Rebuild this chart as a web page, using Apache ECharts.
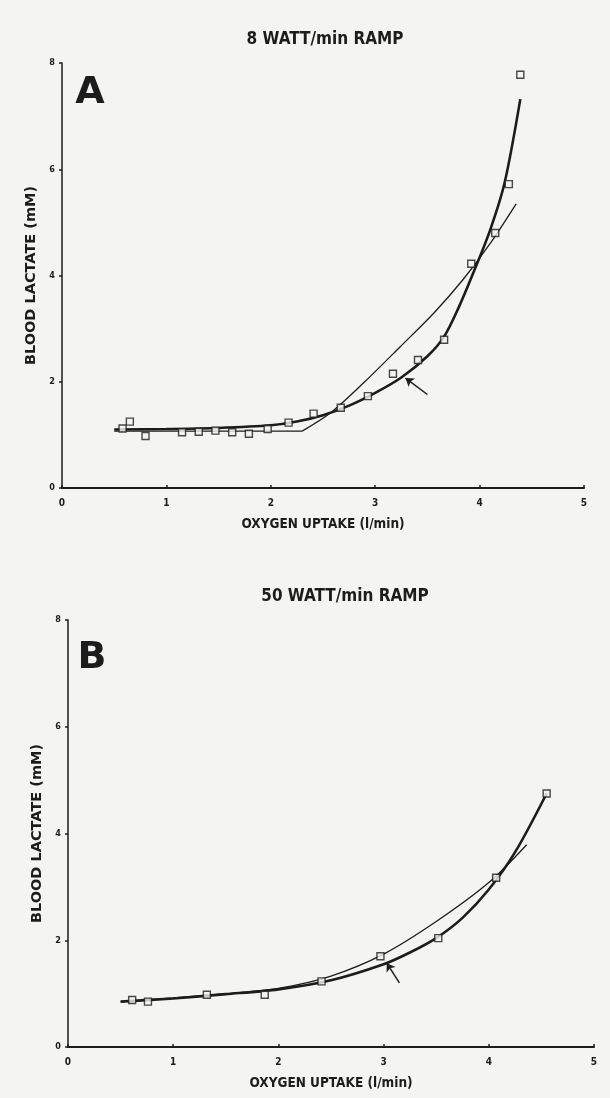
<!DOCTYPE html>
<html>
<head>
<meta charset="utf-8">
<script src="https://cdn.jsdelivr.net/npm/echarts@6/dist/echarts.min.js"></script>
<style>
html,body{margin:0;padding:0;background:#f4f4f2;}
#c{width:610px;height:1098px;}
</style>
</head>
<body>
<div id="c"></div>
<script>
// ---- DATA ----
var titleA = '8 WATT/min RAMP';
var titleB = '50 WATT/min RAMP';
var xName = 'OXYGEN UPTAKE (l/min)';
var yName = 'BLOOD LACTATE (mM)';
var xTicks = [0, 1, 2, 3, 4, 5];
var yTicks = [0, 2, 4, 6, 8];

// Panel A: measured points (l/min, mM)
var pointsA = [[0.58,1.12],[0.65,1.25],[0.80,0.98],[1.15,1.05],[1.31,1.06],[1.47,1.08],[1.63,1.05],[1.79,1.02],[1.97,1.11],[2.17,1.23],[2.41,1.40],[2.67,1.51],[2.93,1.73],[3.17,2.15],[3.41,2.41],[3.66,2.79],[3.92,4.22],[4.15,4.80],[4.28,5.72],[4.39,7.78]];
// Panel A: thick curve (exponential fit)
var thickA = [[0.5,1.10],[1.0,1.11],[1.5,1.13],[2.0,1.18],[2.25,1.25],[2.5,1.37],[2.75,1.55],[3.0,1.79],[3.25,2.08],[3.5,2.48],[3.66,2.85],[3.8,3.40],[3.94,4.05],[4.1,4.85],[4.24,5.75],[4.39,7.32]];
// Panel A: thin line (flat part, then rising curve)
var thinA = [[0.5,1.07],[2.3,1.07],[2.57,1.41],[2.9,2.00],[3.24,2.66],[3.56,3.29],[3.84,3.92],[4.1,4.60],[4.35,5.35]];
// Panel A: arrow (tail, tip)
var arrowA = [[3.50,1.76],[3.29,2.07]];

// Panel B
var pointsB = [[0.61,0.88],[0.76,0.85],[1.32,0.98],[1.87,0.98],[2.41,1.23],[2.97,1.70],[3.52,2.04],[4.07,3.17],[4.55,4.75]];
var thickB = [[0.5,0.85],[1.0,0.91],[1.5,0.99],[2.0,1.08],[2.5,1.25],[3.0,1.55],[3.25,1.77],[3.5,2.04],[3.75,2.42],[4.0,2.95],[4.25,3.65],[4.55,4.75]];
var thinB = [[0.5,0.85],[1.0,0.92],[1.5,1.00],[2.0,1.10],[2.5,1.33],[3.0,1.74],[3.5,2.35],[4.0,3.08],[4.36,3.79]];
var arrowB = [[3.15,1.20],[3.03,1.57]];

// ---- CHART ----
var INK = '#1c1c1c';
var BG = '#f4f4f2';
var FONT = '"DejaVu Sans Condensed", "Liberation Sans Narrow", "DejaVu Sans", sans-serif';
var FONTW = '"DejaVu Sans", sans-serif';

function xAxis(idx) {
  return {
    gridIndex: idx, type: 'value', min: xTicks[0], max: xTicks[xTicks.length-1], interval: 1,
    name: xName, nameLocation: 'middle', nameGap: 29,
    nameTextStyle: {color: INK, fontSize: 13.5, fontWeight: 'bold', fontFamily: FONT},
    axisLine: {show: true, onZero: false, lineStyle: {color: INK, width: 2}},
    axisTick: {show: true, inside: true, length: 3, lineStyle: {color: INK, width: 1.5}},
    axisLabel: {color: INK, fontSize: 10, fontWeight: 'bold', fontFamily: FONT, margin: 10},
    splitLine: {show: false}
  };
}
function yAxis(idx) {
  return {
    gridIndex: idx, type: 'value', min: yTicks[0], max: yTicks[yTicks.length-1], interval: 2,
    name: yName, nameLocation: 'middle', nameGap: 20,
    nameTextStyle: {color: INK, fontSize: 14.5, fontWeight: 'bold', fontFamily: FONTW},
    axisLine: {show: true, onZero: false, lineStyle: {color: INK, width: 1.5}},
    axisTick: {show: true, inside: false, length: 3, lineStyle: {color: INK, width: 1.5}},
    axisLabel: {color: INK, fontSize: 9, fontWeight: 'bold', fontFamily: FONT, margin: 7},
    splitLine: {show: false}
  };
}
function scatter(idx, data) {
  return {type: 'scatter', xAxisIndex: idx, yAxisIndex: idx, data: data, symbol: 'rect', symbolSize: 7,
    itemStyle: {color: BG, borderColor: INK, borderWidth: 1.4}, z: 5, silent: true};
}
function line(idx, data, w, smooth) {
  return {type: 'line', xAxisIndex: idx, yAxisIndex: idx, data: data, showSymbol: false, symbol: 'none',
    smooth: smooth, lineStyle: {color: INK, width: w}, z: 3, silent: true};
}
function arrow(idx, data) {
  return {type: 'lines', coordinateSystem: 'cartesian2d', xAxisIndex: idx, yAxisIndex: idx,
    symbol: ['none', 'arrow'], symbolSize: 8,
    lineStyle: {color: INK, width: 1.5, opacity: 1}, data: [{coords: data}], z: 6, silent: true};
}
function label(x, y, text, font) {
  return {type: 'text', x: x, y: y, silent: true,
    style: {text: text, fill: INK, font: font, align: 'center', verticalAlign: 'middle', textAlign: 'center', textVerticalAlign: 'middle'}};
}

var chart = echarts.init(document.getElementById('c'), null, {renderer: 'canvas'});
chart.setOption({
  backgroundColor: BG,
  animation: false,
  grid: [
    {left: 62, right: 26, top: 63, bottom: 610},
    {left: 68, right: 16, top: 620, bottom: 51}
  ],
  xAxis: [xAxis(0), xAxis(1)],
  yAxis: [yAxis(0), yAxis(1)],
  graphic: [
    label(325, 40, titleA, 'bold 17px ' + FONT),
    label(345, 597, titleB, 'bold 17px ' + FONT),
    label(90, 93, 'A', 'bold 38px ' + FONTW),
    label(92, 658, 'B', 'bold 38px ' + FONTW)
  ],
  series: [
    line(0, thinA.slice(0, 2), 1.3, false),
    line(0, thinA.slice(1), 1.3, 0.3),
    line(0, thickA, 2.6, 0.3),
    scatter(0, pointsA),
    arrow(0, arrowA),
    line(1, thinB, 1.3, 0.3),
    line(1, thickB, 2.6, 0.3),
    scatter(1, pointsB),
    arrow(1, arrowB)
  ]
});
</script>
</body>
</html>
